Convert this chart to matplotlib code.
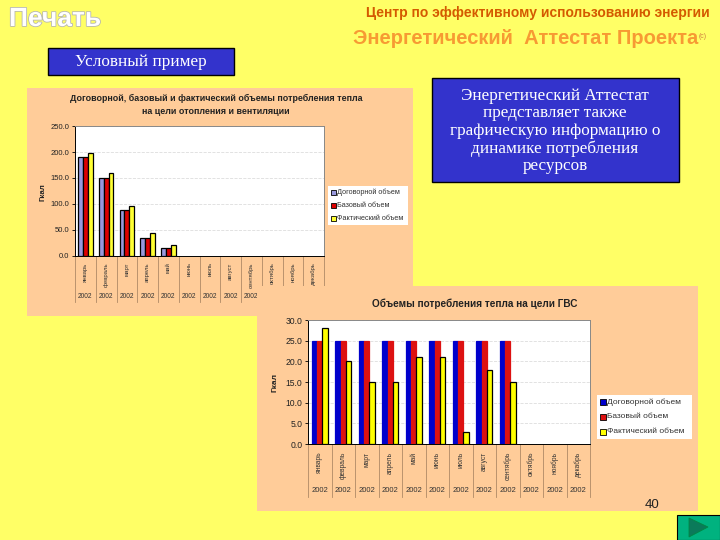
import matplotlib
matplotlib.use("Agg")
import matplotlib.pyplot as plt
import matplotlib.patheffects as pe
from matplotlib.patches import Rectangle, Polygon
import numpy as np

plt.rcParams['font.family'] = ['Liberation Sans', 'DejaVu Sans']

months = ['январь', 'февраль', 'март', 'апрель', 'май', 'июнь', 'июль', 'август',
          'сентябрь', 'октябрь', 'ноябрь', 'декабрь']
years = ['2002'] * 12
series_names = ['Договорной объем', 'Базовый объем', 'Фактический объем']

# отопление и вентиляция
heat_contract = [190, 150, 88, 34, 15]
heat_base = [190, 150, 88, 34, 15]
heat_actual = [199, 160, 96, 44, 21]
heat_ticks = [0, 50, 100, 150, 200, 250]

# ГВС
gvs_contract = [25, 25, 25, 25, 25, 25, 25, 25, 25]
gvs_base = [25, 25, 25, 25, 25, 25, 25, 25, 25]
gvs_actual = [28, 20, 15, 15, 21, 21, 3, 18, 15]
gvs_ticks = [0, 5, 10, 15, 20, 25, 30]

W, H = 720, 540
PANEL = '#FFCC99'


def px_axes(x0, y0, x1, y1, **kw):
    # оси в пикселях картинки, y сверху вниз
    return fig.add_axes([x0 / W, 1 - y1 / H, (x1 - x0) / W, (y1 - y0) / H], **kw)


def overlay():
    a = fig.add_axes([0, 0, 1, 1])
    a.set_xlim(0, W)
    a.set_ylim(H, 0)
    a.axis('off')
    return a


def draw_chart(box, series, colors, edges, ticks, fs, month_fs, pad, w, sep_px, year_px):
    ax = px_axes(*box)
    ax.set_facecolor('white')
    x = np.arange(len(series[0]))
    for k, (vals, c, e) in enumerate(zip(series, colors, edges)):
        ax.bar(x + (k - 1) * w, vals, w, color=c, edgecolor=e, linewidth=0.9, zorder=3)
    ax.set_xlim(-0.5, 11.5)
    ax.set_ylim(ticks[0], ticks[-1])
    ax.set_yticks(ticks)
    ax.set_yticklabels(['%.1f' % t for t in ticks], fontsize=fs, color='#222222')
    ax.yaxis.grid(True, color='#dddddd', linestyle='--', linewidth=0.6)
    ax.set_axisbelow(True)
    ax.tick_params(axis='y', length=2, width=0.6, pad=2)
    ax.set_xticks(range(12))
    ax.set_xticklabels(months, rotation=90, fontsize=month_fs, color='#333333')
    ax.tick_params(axis='x', length=0, pad=pad)
    for s in ax.spines.values():
        s.set_color('#888888')
        s.set_linewidth(0.7)
    ax.spines['bottom'].set_color('black')
    ax.spines['left'].set_color('black')
    h = box[3] - box[1]
    trans = ax.get_xaxis_transform()
    for b in np.arange(-0.5, 12):
        ax.plot([b, b], [0, -sep_px / h], transform=trans, color='#b08a66', lw=0.6, clip_on=False)
    for i, y in enumerate(years):
        ax.text(i, -year_px / h, y, transform=trans, fontsize=fs - 0.7, color='#333333',
                ha='center', va='center')
    return ax


def draw_legend(a, x0, y0, x1, y1, colors, fs, sq):
    a.add_patch(Rectangle((x0, y0), x1 - x0, y1 - y0, fc='white', ec='none'))
    step = (y1 - y0) / 3
    for k, (name, c) in enumerate(zip(series_names, colors)):
        yc = y0 + step * (k + 0.5)
        a.add_patch(Rectangle((x0 + 3, yc - sq / 2), sq, sq, fc=c, ec='black', lw=0.6))
        a.text(x0 + 4 + sq, yc, name, fontsize=fs, color='#333333', va='center')


fig = plt.figure(figsize=(7.2, 5.4), dpi=100, facecolor='#FFFF66')

bg = overlay()
bg.set_zorder(0)
bg.add_patch(Rectangle((27, 88), 386, 228, fc=PANEL, ec='none'))
bg.text(9, 19, 'Печать', fontsize=19, fontweight='bold', color='white', va='center',
        path_effects=[pe.withStroke(linewidth=1.2, foreground='#B8B8B0')])
bg.text(538, 13, 'Центр по эффективному использованию энергии', fontsize=10, fontweight='bold',
        color='#D45A00', ha='center', va='center')
bg.text(698, 38, 'Энергетический  Аттестат Проекта', fontsize=14.5, fontweight='bold', color='#F79A33',
        ha='right', va='center')
bg.text(699, 36, '(с)', fontsize=5, color='#D08040', va='center')
bg.add_patch(Rectangle((48, 48), 186, 27, fc='#3333CC', ec='black', lw=1))
bg.text(141, 62, 'Условный пример', fontsize=12.4, color='white', ha='center', va='center',
        family='Liberation Serif')
bg.text(216, 105, 'Договорной, базовый и фактический объемы потребления тепла\nна цели отопления и вентиляции',
        fontsize=6.4, fontweight='bold', color='#222222', ha='center', va='center', linespacing=1.5)
bg.text(43, 192, 'Гкал', fontsize=5.7, fontweight='bold', color='#222222', rotation=90, ha='center', va='center')

colors1 = ['#9999DD', '#DD0000', '#FFFF33']
ax1 = draw_chart((75, 126, 324, 256), [heat_contract, heat_base, heat_actual], colors1,
                 ['black', 'black', 'black'], heat_ticks, 5.5, 4.3, 4.5, 0.236, 46, 41)

top = overlay()
draw_legend(top, 328, 186, 408, 225, colors1, 5.2, 5)
top.add_patch(Rectangle((257, 286), 441, 225, fc=PANEL, ec='none'))
top.add_patch(Rectangle((432, 78), 247, 104, fc='#3333CC', ec='black', lw=1))
top.text(555, 131, 'Энергетический Аттестат\nпредставляет также\nграфическую информацию о\nдинамике потребления\nресурсов',
         fontsize=12.3, color='white', ha='center', va='center', family='Liberation Serif', linespacing=1.13)
top.text(475, 304, 'Объемы потребления тепла на цели ГВС', fontsize=7.2, fontweight='bold',
         color='#222222', ha='center', va='center')
top.text(275, 382, 'Гкал', fontsize=6, fontweight='bold', color='#222222', rotation=90, ha='center', va='center')

colors2 = ['#0000CC', '#DD1111', '#FFFF00']
ax2 = draw_chart((308, 320, 590, 444), [gvs_contract, gvs_base, gvs_actual], colors2,
                 ['#0000CC', '#DD1111', 'black'], gvs_ticks, 6.2, 4.8, 5.5, 0.225, 53, 47)

front = overlay()
draw_legend(front, 597, 395, 692, 439, colors2, 6, 6)
front.text(652, 505, '40', fontsize=9.5, color='#222222', ha='center', va='center')
front.add_patch(Rectangle((677, 515), 43, 25, fc='#00B27F', ec='black', lw=0.8))
front.add_patch(Polygon([(689, 518), (708, 527), (689, 537)], fc='#0B7A5A', ec='#084', lw=0.6))

fig.savefig('out.png', dpi=100, facecolor=fig.get_facecolor())
